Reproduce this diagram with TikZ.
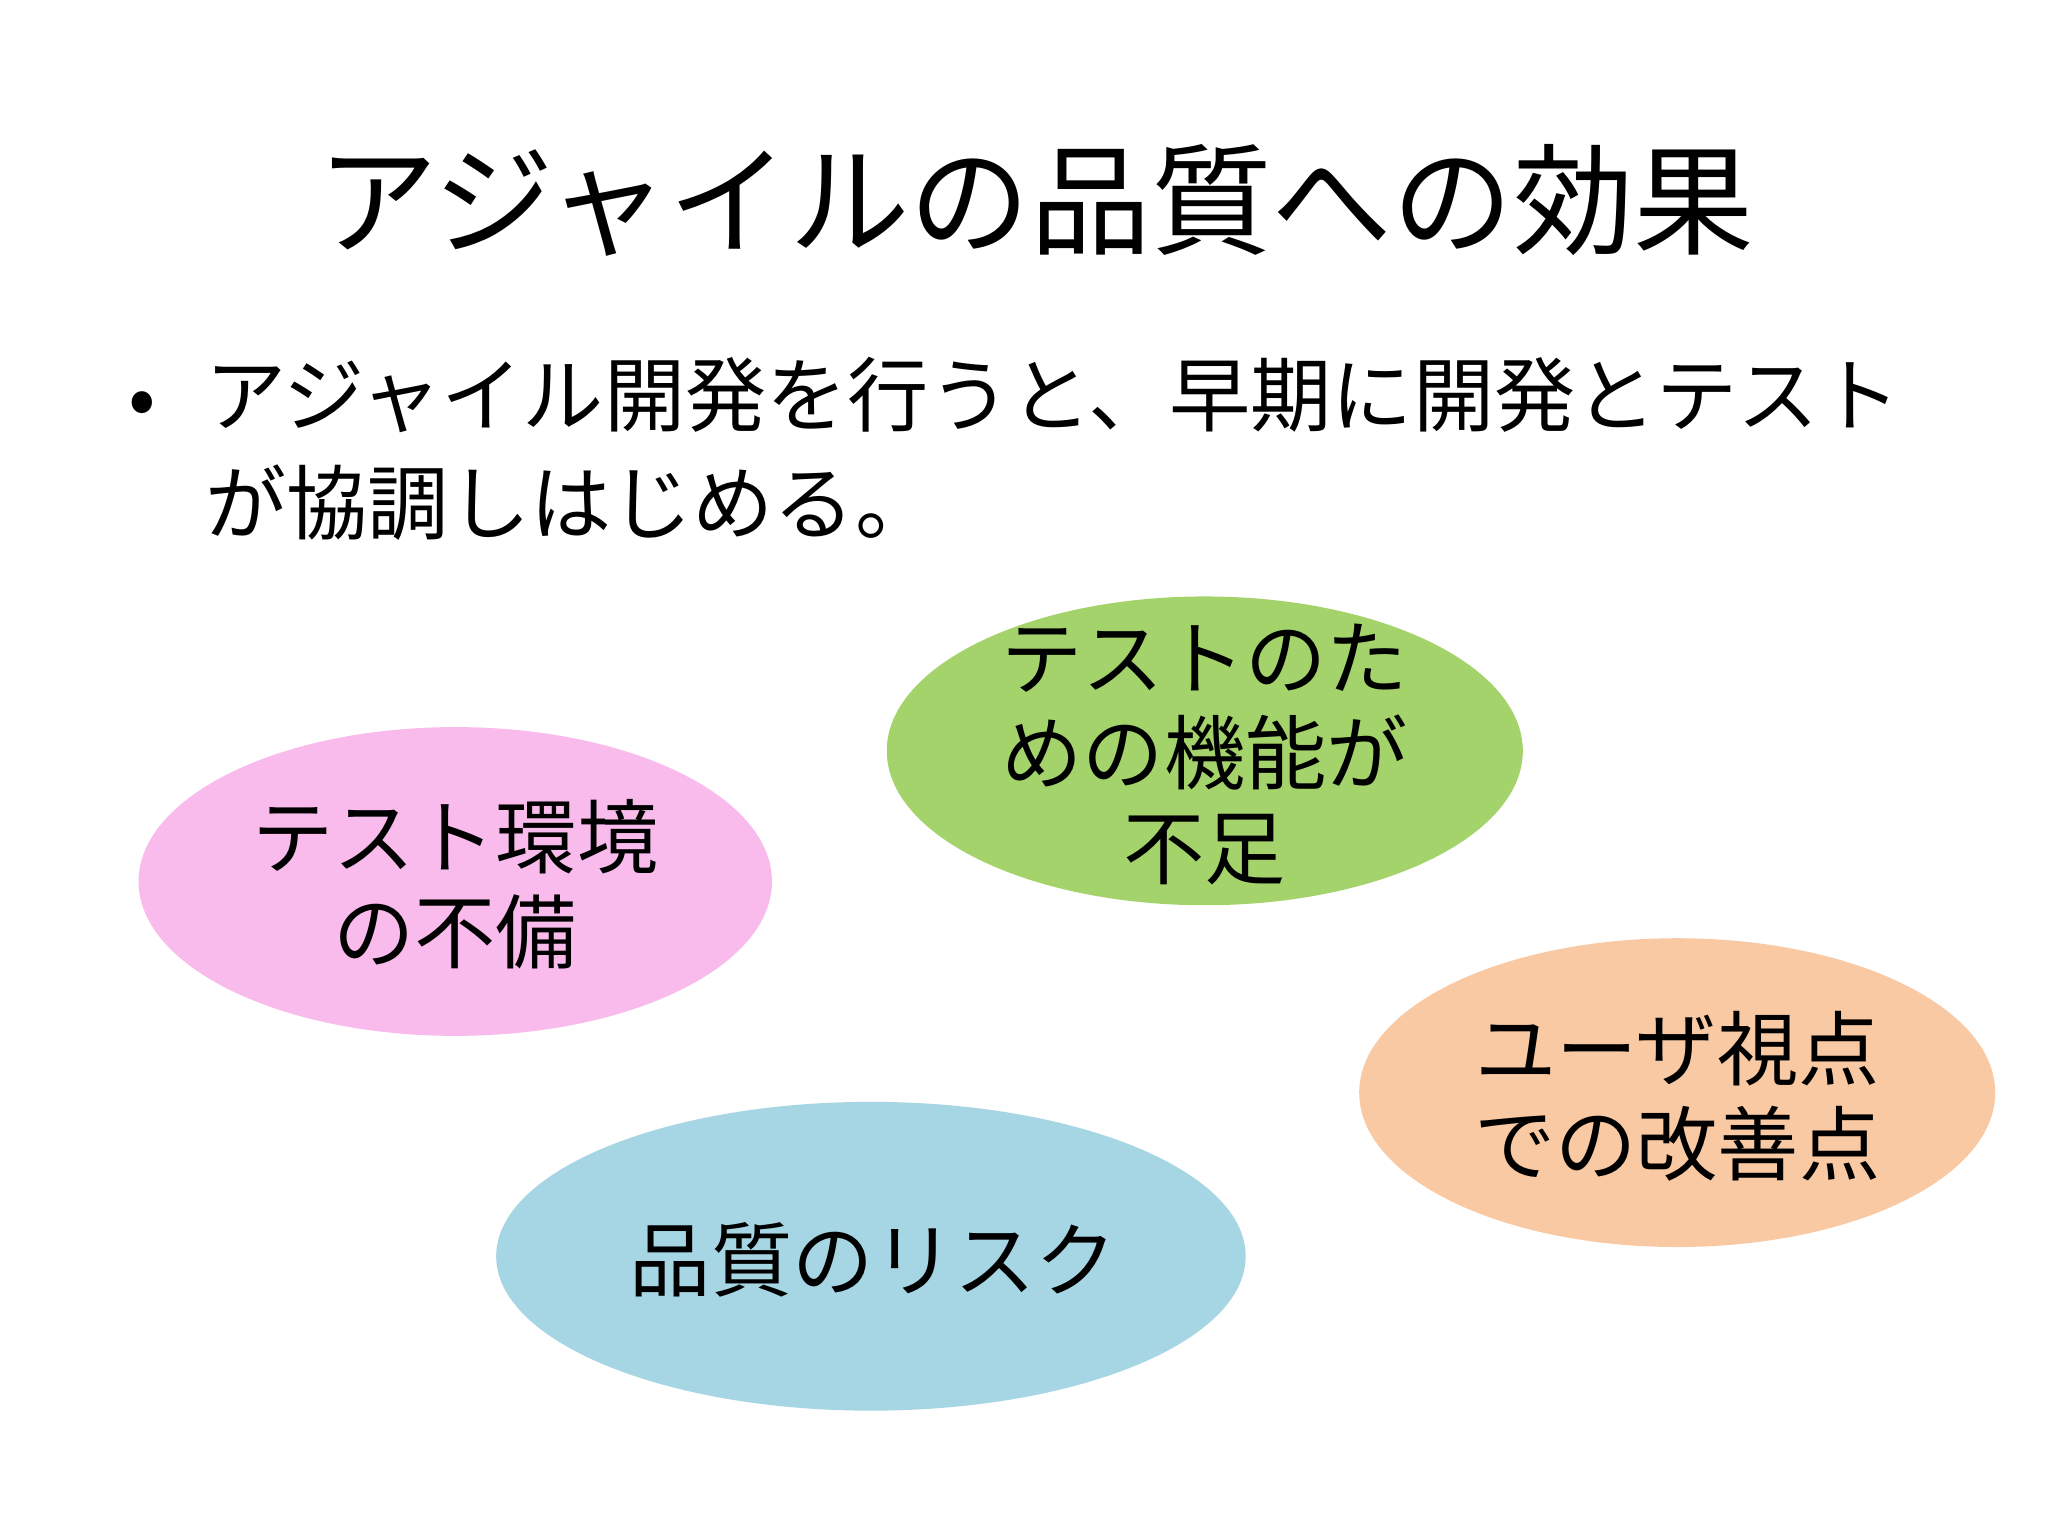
\documentclass[tikz,border=0pt]{standalone}
\usepackage{fontspec}
\setmainfont{Noto Sans CJK JP}
\definecolor{cpink}{RGB}{249,187,236}
\definecolor{cgreen}{RGB}{163,211,106}
\definecolor{corange}{RGB}{249,201,163}
\definecolor{cblue}{RGB}{166,214,228}
\begin{document}
\begin{tikzpicture}[x=0.01cm,y=-0.01cm,
  lbl/.style={font=\fontsize{17.5}{20.5}\selectfont,align=center}]
\fill[white] (0,0) rectangle (1552,1164);
\useasboundingbox (0,0) rectangle (1552,1164);
\fill[cpink] (345,668) ellipse [x radius=240,y radius=117];
\fill[cgreen] (913,569) ellipse [x radius=241,y radius=117];
\fill[corange] (1271,828) ellipse [x radius=241,y radius=117];
\fill[cblue] (660,952) ellipse [x radius=284,y radius=117];
\node[font=\fontsize{26}{30}\selectfont] (title) at (785,152) {アジャイルの品質への効果};
\node[font=\fontsize{17.5}{23}\selectfont] (bul) at (108,310) {•};
\node[anchor=north west,align=left,font=\fontsize{17.5}{23.2}\selectfont,inner sep=0pt] (body) at (155,270) {アジャイル開発を行うと、早期に開発とテスト\\が協調しはじめる。};
\node[lbl] (a) at (345,670) {テスト環境\\の不備};
\node[lbl] (b) at (913,572) {テストのた\\めの機能が\\不足};
\node[lbl] (c) at (1271,831) {ユーザ視点\\での改善点};
\node[lbl] (d) at (662,955) {品質のリスク};
\end{tikzpicture}
\end{document}
